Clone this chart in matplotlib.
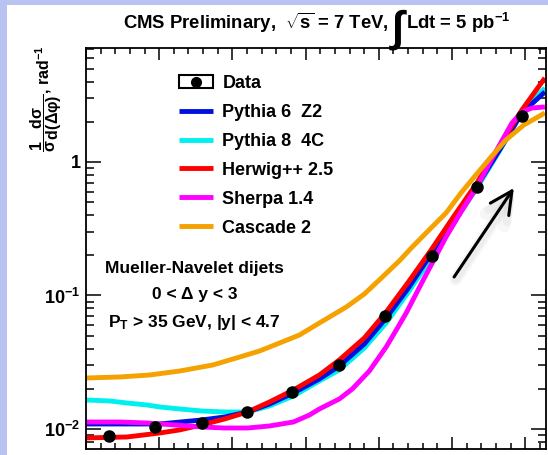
import numpy as np
import matplotlib
matplotlib.use('Agg')
import matplotlib.pyplot as plt
from matplotlib.patches import Rectangle
from matplotlib.lines import Line2D
from matplotlib.legend_handler import HandlerTuple
from matplotlib.ticker import FixedLocator, LogLocator, NullFormatter, MultipleLocator, FuncFormatter

plt.rcParams['font.family'] = ['Liberation Sans', 'DejaVu Sans']
plt.rcParams['font.weight'] = 'bold'
plt.rcParams['mathtext.fontset'] = 'custom'
plt.rcParams['mathtext.rm'] = 'Liberation Sans:bold'
plt.rcParams['mathtext.it'] = 'Liberation Sans:bold'
plt.rcParams['mathtext.bf'] = 'Liberation Sans:bold'
plt.rcParams['mathtext.sf'] = 'Liberation Sans:bold'

# 数据
data_dphi = [0.16, 0.47, 0.79, 1.10, 1.41, 1.73, 2.04, 2.36, 2.67, 2.98]
data_val = [0.00887, 0.01035, 0.0111, 0.0134, 0.0189, 0.0302, 0.0702, 0.198, 0.650, 2.21]

# Pythia 6 Z2
py6_dphi = [0.0, 0.279, 0.504, 0.790, 0.947, 1.104, 1.253, 1.417, 1.594, 1.730, 1.901,
            2.050, 2.207, 2.357, 2.514, 2.670, 2.820, 2.977, 3.134]
py6_val = [0.01090, 0.01090, 0.01090, 0.01168, 0.01230, 0.01341, 0.01539, 0.01862, 0.02371, 0.02964, 0.04335,
           0.06781, 0.1158, 0.2046, 0.3680, 0.6607, 1.209, 2.328, 3.345]

# Pythia 8 4C
py8_dphi = [0.0, 0.163, 0.279, 0.416, 0.504, 0.640, 0.790, 0.947, 1.104, 1.253, 1.417, 1.594, 1.730,
            1.901, 2.050, 2.207, 2.357, 2.514, 2.670, 2.820, 2.977, 3.134]
py8_val = [0.01649, 0.01621, 0.01566, 0.01513, 0.01462, 0.01412, 0.01364, 0.01341, 0.01341, 0.01487, 0.01767,
           0.02290, 0.02767, 0.04043, 0.06223, 0.1081, 0.1909, 0.3553, 0.6385, 1.188, 2.328, 3.585]

# Herwig++ 2.5
hw_dphi = [0.0, 0.279, 0.504, 0.640, 0.790, 0.947, 1.104, 1.253, 1.417, 1.594, 1.730, 1.901,
           2.050, 2.207, 2.357, 2.514, 2.670, 2.820, 2.977, 3.134]
hw_val = [0.00857, 0.00871, 0.00933, 0.00984, 0.01072, 0.01189, 0.01341, 0.01593, 0.01960, 0.02538, 0.03289,
          0.04806, 0.07516, 0.1285, 0.2193, 0.3943, 0.6964, 1.295, 2.453, 4.257]

# Sherpa 1.4
sh_dphi = [0.0, 0.232, 0.416, 0.606, 0.790, 0.947, 1.104, 1.253, 1.417, 1.526, 1.594, 1.730, 1.819, 1.935,
           2.050, 2.119, 2.187, 2.296, 2.459, 2.561, 2.670, 2.786, 2.909, 2.977, 3.045, 3.134]
sh_val = [0.01128, 0.01128, 0.01109, 0.01072, 0.01035, 0.01017, 0.01017, 0.01053, 0.01128, 0.01273, 0.01412,
          0.01678, 0.01995, 0.02718, 0.04113, 0.05516, 0.07398, 0.1262, 0.2743, 0.4218, 0.6498, 1.128, 1.959,
          2.369, 2.537, 2.583]

# Cascade 2
cas_dphi = [0.0, 0.232, 0.436, 0.640, 0.865, 1.049, 1.185, 1.322, 1.458, 1.594, 1.778, 1.901, 2.003, 2.139,
            2.228, 2.343, 2.459, 2.561, 2.663, 2.766, 2.868, 2.990, 3.134]
cas_val = [0.0241, 0.02452, 0.02538, 0.02718, 0.03013, 0.03459, 0.03837, 0.04406, 0.05058, 0.06223, 0.08199,
           0.1026, 0.1306, 0.1812, 0.2307, 0.3095, 0.4150, 0.5861, 0.7996, 1.090, 1.462, 1.893, 2.328]

W, H = 548, 455


def fx(x):
    return x / W


def fy(y):
    return 1 - y / H


fig = plt.figure(figsize=(5.48, 4.55), dpi=100)
fig.patch.set_facecolor('white')
# 左边和上边的浅蓝色边
fig.patches.append(Rectangle((0, 0), fx(7), 1, transform=fig.transFigure, facecolor='#b9c3f2', edgecolor='none', zorder=-5))
fig.patches.append(Rectangle((0, fy(5)), 1, 5 / H, transform=fig.transFigure, facecolor='#b9c3f2', edgecolor='none', zorder=-5))

ax = fig.add_axes([fx(86), fy(449), (546 - 86) / W, (449 - 48) / H])
ax.set_yscale('log')

lw = 3.5
l_py8, = ax.plot(py8_dphi, py8_val, color='#00f0f0', lw=lw, solid_capstyle='butt')
l_py6, = ax.plot(py6_dphi, py6_val, color='#0010e0', lw=lw, solid_capstyle='butt')
l_hw, = ax.plot(hw_dphi, hw_val, color='#ff0000', lw=lw, solid_capstyle='butt')
l_sh, = ax.plot(sh_dphi, sh_val, color='#ff00ff', lw=lw, solid_capstyle='butt')
l_cas, = ax.plot(cas_dphi, cas_val, color='#f5a100', lw=lw, solid_capstyle='butt')
ax.plot(data_dphi, data_val, ls='none', marker='o', color='black', ms=8, zorder=5)

ax.set_xlim(0, np.pi)
ax.set_ylim(0.00708, 7.14)

ax.xaxis.set_major_locator(MultipleLocator(0.5))
ax.xaxis.set_minor_locator(MultipleLocator(0.1))
ax.xaxis.set_major_formatter(FuncFormatter(lambda v, p: f'{v:g}'))
ax.yaxis.set_major_locator(FixedLocator([0.01, 0.1, 1]))
ax.yaxis.set_minor_locator(LogLocator(base=10, subs=np.arange(2, 10)))
ax.yaxis.set_minor_formatter(NullFormatter())
ax.set_yticks([0.01, 0.1, 1])
ax.set_yticklabels(['$10^{-2}$', '$10^{-1}$', '1'])

ax.tick_params(which='both', direction='in', top=True, right=True, width=1.1, color='black')
ax.tick_params(axis='y', which='major', length=10.5, pad=4, labelsize=13)
ax.tick_params(axis='y', which='minor', length=5.5)
ax.tick_params(axis='x', which='major', length=8.5, pad=4, labelsize=12)
ax.tick_params(axis='x', which='minor', length=4.5)
for s in ax.spines.values():
    s.set_linewidth(1.3)
    s.set_color('black')

# 图例
box = Rectangle((0, 0), 1, 1, facecolor='white', edgecolor='black', lw=1.5)
dot = Line2D([], [], ls='none', marker='o', color='black', ms=7)
handles = [(box, dot), l_py6, l_py8, l_hw, l_sh, l_cas]
labels = ['Data', 'Pythia 6  Z2', 'Pythia 8  4C', 'Herwig++ 2.5', 'Sherpa 1.4', 'Cascade 2']
ax.legend(handles, labels, handler_map={tuple: HandlerTuple(ndivide=1)},
          loc='upper left', bbox_to_anchor=(fx(179), fy(75)), bbox_transform=fig.transFigure,
          frameon=False, handlelength=1.9, handletextpad=0.5, labelspacing=0.66,
          borderpad=0, borderaxespad=0, prop={'size': 13, 'weight': 'bold'})

# 文字说明
fig.text(fx(194), fy(268), 'Mueller-Navelet dijets', ha='center', va='center', fontsize=12.5, fontweight='bold')
fig.text(fx(195), fy(294), '0 < Δ y < 3', ha='center', va='center', fontsize=12.5, fontweight='bold')
fig.text(fx(194), fy(322), r'P$_{\mathrm{T}}$ > 35 GeV, |y| < 4.7', ha='center', va='center', fontsize=12.5, fontweight='bold')

# 箭头 (带阴影)
for a, w in [(0.06, 9), (0.08, 6)]:
    ax.annotate('', xy=(2.93, 0.62), xytext=(2.525, 0.132),
                arrowprops=dict(arrowstyle='->,head_length=0.8,head_width=0.4', lw=w, color='gray', alpha=a,
                                mutation_scale=20, shrinkA=0, shrinkB=0))
ax.annotate('', xy=(2.922, 0.638), xytext=(2.514, 0.1376),
            arrowprops=dict(arrowstyle='->,head_length=0.8,head_width=0.4', lw=2.2, color='black',
                            mutation_scale=20, shrinkA=0, shrinkB=0))

# y轴标题
fig.text(fx(46), fy(45), r'$\dfrac{1}{\sigma}\dfrac{d\sigma}{d(\Delta\varphi)}$, rad$^{-1}$',
         rotation=90, ha='center', va='top', fontsize=11.5)

# 标题 (分段画, 积分号放大)
renderer = fig.canvas.get_renderer()
t1 = fig.text(fx(123), fy(23), r'CMS Preliminary,  $\sqrt{s}$ = 7 TeV,', ha='left', va='center', fontsize=13.3, fontweight='bold')
bb = t1.get_window_extent(renderer)
t2 = fig.text((bb.x1 + 3) / W, fy(30), '∫', ha='left', va='center', fontsize=31, fontweight='bold')
bb2 = t2.get_window_extent(renderer)
fig.text((bb2.x1 + 2) / W, fy(23), r'Ldt = 5 pb$^{-1}$', ha='left', va='center', fontsize=13.3, fontweight='bold')

plt.savefig('out.png', dpi=100)
